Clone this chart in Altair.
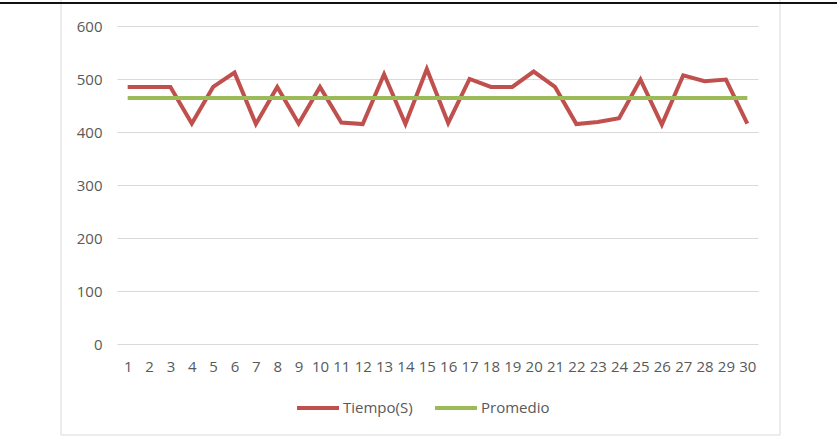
import altair as alt
import pandas as pd

prueba = list(range(1, 31))
tiempo = [485, 485, 485, 416, 485, 512, 415, 485, 416, 485,
          418, 415, 509, 415, 519, 417, 500, 485, 485, 514,
          485, 415, 419, 426, 499, 414, 507, 496, 499, 416]
promedio = [464] * 30
series = ["Tiempo(S)", "Promedio"]
colors = ["#C0504D", "#9BBB59"]

rows = []
for i, p in enumerate(prueba):
    rows.append({"n": p, "serie": series[0], "valor": tiempo[i]})
    rows.append({"n": p, "serie": series[1], "valor": promedio[i]})
df = pd.DataFrame(rows)

FONT = "Open Sans"
GREY = "#595959"

lines = alt.Chart(df).mark_line(strokeWidth=4, strokeJoin="miter", clip=False).encode(
    x=alt.X("n:O", scale=alt.Scale(type="point", padding=0.5),
            axis=alt.Axis(title=None, labelAngle=0, domain=False, ticks=False,
                          labelColor=GREY, labelFont=FONT, labelFontSize=15,
                          labelPadding=15, grid=False)),
    y=alt.Y("valor:Q", scale=alt.Scale(domain=[0, 600], nice=False),
            axis=alt.Axis(title=None, values=[0, 100, 200, 300, 400, 500, 600],
                          domain=False, ticks=False, labelColor=GREY, labelFont=FONT,
                          labelFontSize=15, labelPadding=15, gridColor="#d9d9d9",
                          gridWidth=1)),
    color=alt.Color("serie:N", scale=alt.Scale(domain=series, range=colors),
                    sort=series,
                    legend=alt.Legend(title=None, orient="none", direction="horizontal",
                                      legendX=178, legendY=359, symbolType="stroke",
                                      symbolSize=1764, symbolStrokeWidth=4,
                                      labelFont=FONT, labelFontSize=15, labelColor=GREY,
                                      labelOffset=2, columnPadding=14)),
    order=alt.Order("n:O"),
    detail="serie:N",
)

frame = alt.Chart(pd.DataFrame({"k": [0]})).mark_rect(
    fill=None, stroke="#d9d9d9", strokeWidth=1, clip=False
).encode(x=alt.value(-56), x2=alt.value(663), y=alt.value(-40), y2=alt.value(409))

topline = alt.Chart(pd.DataFrame({"k": [0]})).mark_rule(
    color="#111111", strokeWidth=2, clip=False
).encode(x=alt.value(-117), x2=alt.value(720), y=alt.value(-23))

chart = alt.layer(frame, lines, topline).properties(
    width=641, height=318,
    padding={"left": 117, "top": 26, "right": 79, "bottom": 100},
    autosize=alt.AutoSizeParams(type="none"),
    background="white",
).configure_view(stroke=None)

chart.save("out.html", embed_options={"renderer": "svg", "actions": False})
